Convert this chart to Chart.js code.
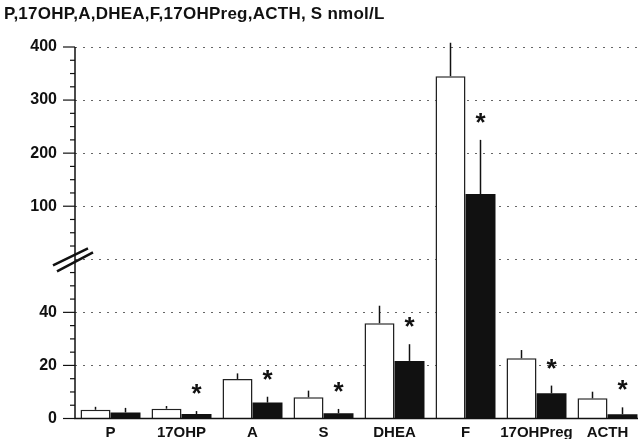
<!DOCTYPE html>
<html>
<head>
<meta charset="utf-8">
<script src="https://cdn.jsdelivr.net/npm/chart.js@4.4.1/dist/chart.umd.min.js"></script>
<style>
    html, body { margin: 0; padding: 0; background: #fff; overflow: hidden; }
    #wrap { position: relative; width: 638px; height: 439px; }
    #chart { display: block; }
    #title {
        position: absolute; left: 4px; top: 4px;
        font: bold 17px "Liberation Sans", Arial, sans-serif;
        letter-spacing: 0.25px;
        color: #111; white-space: nowrap;
    }
</style>
</head>
<body>
<div id="wrap">
    <canvas id="chart" width="638" height="439"></canvas>
    <div id="title">P,17OHP,A,DHEA,F,17OHPreg,ACTH, S nmol/L</div>
</div>
<script>
const labels = ['P', '17OHP', 'A', 'S', 'DHEA', 'F', '17OHPreg', 'ACTH'];
const controlMean = [3.3, 3.7, 14.9, 8.0, 35.9, 345, 22.7, 7.6];
const controlErr = [1.1, 1.0, 2.1, 2.5, 6.6, 63, 3.1, 2.5];
const patientMean = [2.3, 1.7, 6.0, 2.0, 21.7, 123, 9.5, 1.6];
const patientErr = [1.7, 1.1, 2.2, 1.6, 6.3, 102, 2.9, 2.6];
const significant = [false, true, true, true, true, true, true, true];

// broken axis: 0-60 below the break, 100-400 above it
const tickLabels = { 0: '0', 1: '20', 2: '40', 4: '100', 5: '200', 6: '300', 7: '400' };

function toAxis(v) {
    return v <= 60 ? v / 20 : 4 + (v - 100) / 100;
}

const ink = '#111';

// the original plot runs a few px past the right edge of the picture
const stretchRight = {
    id: 'stretchRight',
    afterLayout(chart) {
        const x = chart.scales.x;
        chart.chartArea.right += 5;
        chart.chartArea.width = chart.chartArea.right - chart.chartArea.left;
        x.right += 5;
        x.width = x.right - x.left;
        x.configure();
    }
};

const decor = {
    id: 'decor',
    afterDatasetsDraw(chart) {
        const ctx = chart.ctx;
        const y = chart.scales.y;
        const area = chart.chartArea;
        ctx.save();
        ctx.strokeStyle = ink;
        ctx.fillStyle = ink;

        // error bars (upper only)
        [[0, controlMean, controlErr], [1, patientMean, patientErr]].forEach(([di, mean, err]) => {
            const meta = chart.getDatasetMeta(di);
            meta.data.forEach((bar, i) => {
                ctx.lineWidth = 1.5;
                ctx.beginPath();
                ctx.moveTo(bar.x, y.getPixelForValue(toAxis(mean[i])));
                ctx.lineTo(bar.x, y.getPixelForValue(toAxis(mean[i] + err[i])));
                ctx.stroke();
            });
        });

        // significance stars
        const pMeta = chart.getDatasetMeta(1);
        ctx.font = 'bold 26px "Liberation Sans", Arial, sans-serif';
        ctx.textAlign = 'center';
        ctx.textBaseline = 'alphabetic';
        pMeta.data.forEach((bar, i) => {
            if (!significant[i]) return;
            const top = y.getPixelForValue(toAxis(patientMean[i] + patientErr[i]));
            ctx.fillText('*', bar.x, top - 24 + 15);
        });

        // axis lines
        ctx.lineWidth = 1.5;
        ctx.beginPath();
        ctx.moveTo(area.left, y.getPixelForValue(7));
        ctx.lineTo(area.left, area.bottom);
        ctx.lineTo(area.right, area.bottom);
        ctx.stroke();

        // ticks: major on labelled values, minor every quarter step
        for (let k = 0; k <= 28; k++) {
            const d = k / 4;
            if (d === 3) continue;
            const py = y.getPixelForValue(d);
            const len = Number.isInteger(d) ? 12 : 5;
            ctx.lineWidth = 1.2;
            ctx.beginPath();
            ctx.moveTo(area.left - len, py);
            ctx.lineTo(area.left, py);
            ctx.stroke();
        }

        // break marker
        const by = y.getPixelForValue(3);
        const bx = area.left;
        ctx.lineWidth = 2.5;
        ctx.beginPath();
        ctx.moveTo(bx - 22, by + 6);
        ctx.lineTo(bx + 13, by - 11);
        ctx.moveTo(bx - 18, by + 12);
        ctx.lineTo(bx + 18, by - 7);
        ctx.stroke();

        ctx.restore();
    }
};

new Chart(document.getElementById('chart'), {
    type: 'bar',
    data: {
        labels: labels,
        datasets: [
            {
                label: 'control',
                data: controlMean.map(toAxis),
                backgroundColor: '#fff',
                borderColor: '#222',
                borderWidth: 1.5
            },
            {
                label: 'patients',
                data: patientMean.map(toAxis),
                backgroundColor: ink,
                borderColor: ink,
                borderWidth: 0
            }
        ]
    },
    options: {
        responsive: false,
        animation: false,
        layout: { padding: { top: 47, right: 0, left: 0, bottom: 0 } },
        datasets: { bar: { categoryPercentage: 0.845, barPercentage: 1.0 } },
        plugins: {
            legend: { display: false },
            tooltip: { enabled: false }
        },
        scales: {
            x: {
                grid: { display: false, drawTicks: false },
                border: { display: false },
                ticks: {
                    color: ink,
                    padding: 5,
                    maxRotation: 0,
                    minRotation: 0,
                    autoSkip: false,
                    font: { family: '"Liberation Sans", Arial, sans-serif', size: 15, weight: 'bold' }
                },
                afterFit: s => { s.height = 20.5; }
            },
            y: {
                min: 0,
                max: 7,
                border: { display: false, dash: [2, 6] },
                grid: {
                    drawTicks: true,
                    tickLength: 15,
                    tickColor: 'transparent',
                    lineWidth: 1,
                    color: c => (c.tick && c.tick.value > 0 ? '#666' : 'transparent')
                },
                ticks: {
                    stepSize: 1,
                    padding: 3,
                    color: ink,
                    font: { family: '"Liberation Sans", Arial, sans-serif', size: 16, weight: 'bold' },
                    callback: v => tickLabels[v] || ''
                },
                afterFit: s => { s.width = 75; }
            }
        }
    },
    plugins: [stretchRight, decor]
});
</script>
</body>
</html>
